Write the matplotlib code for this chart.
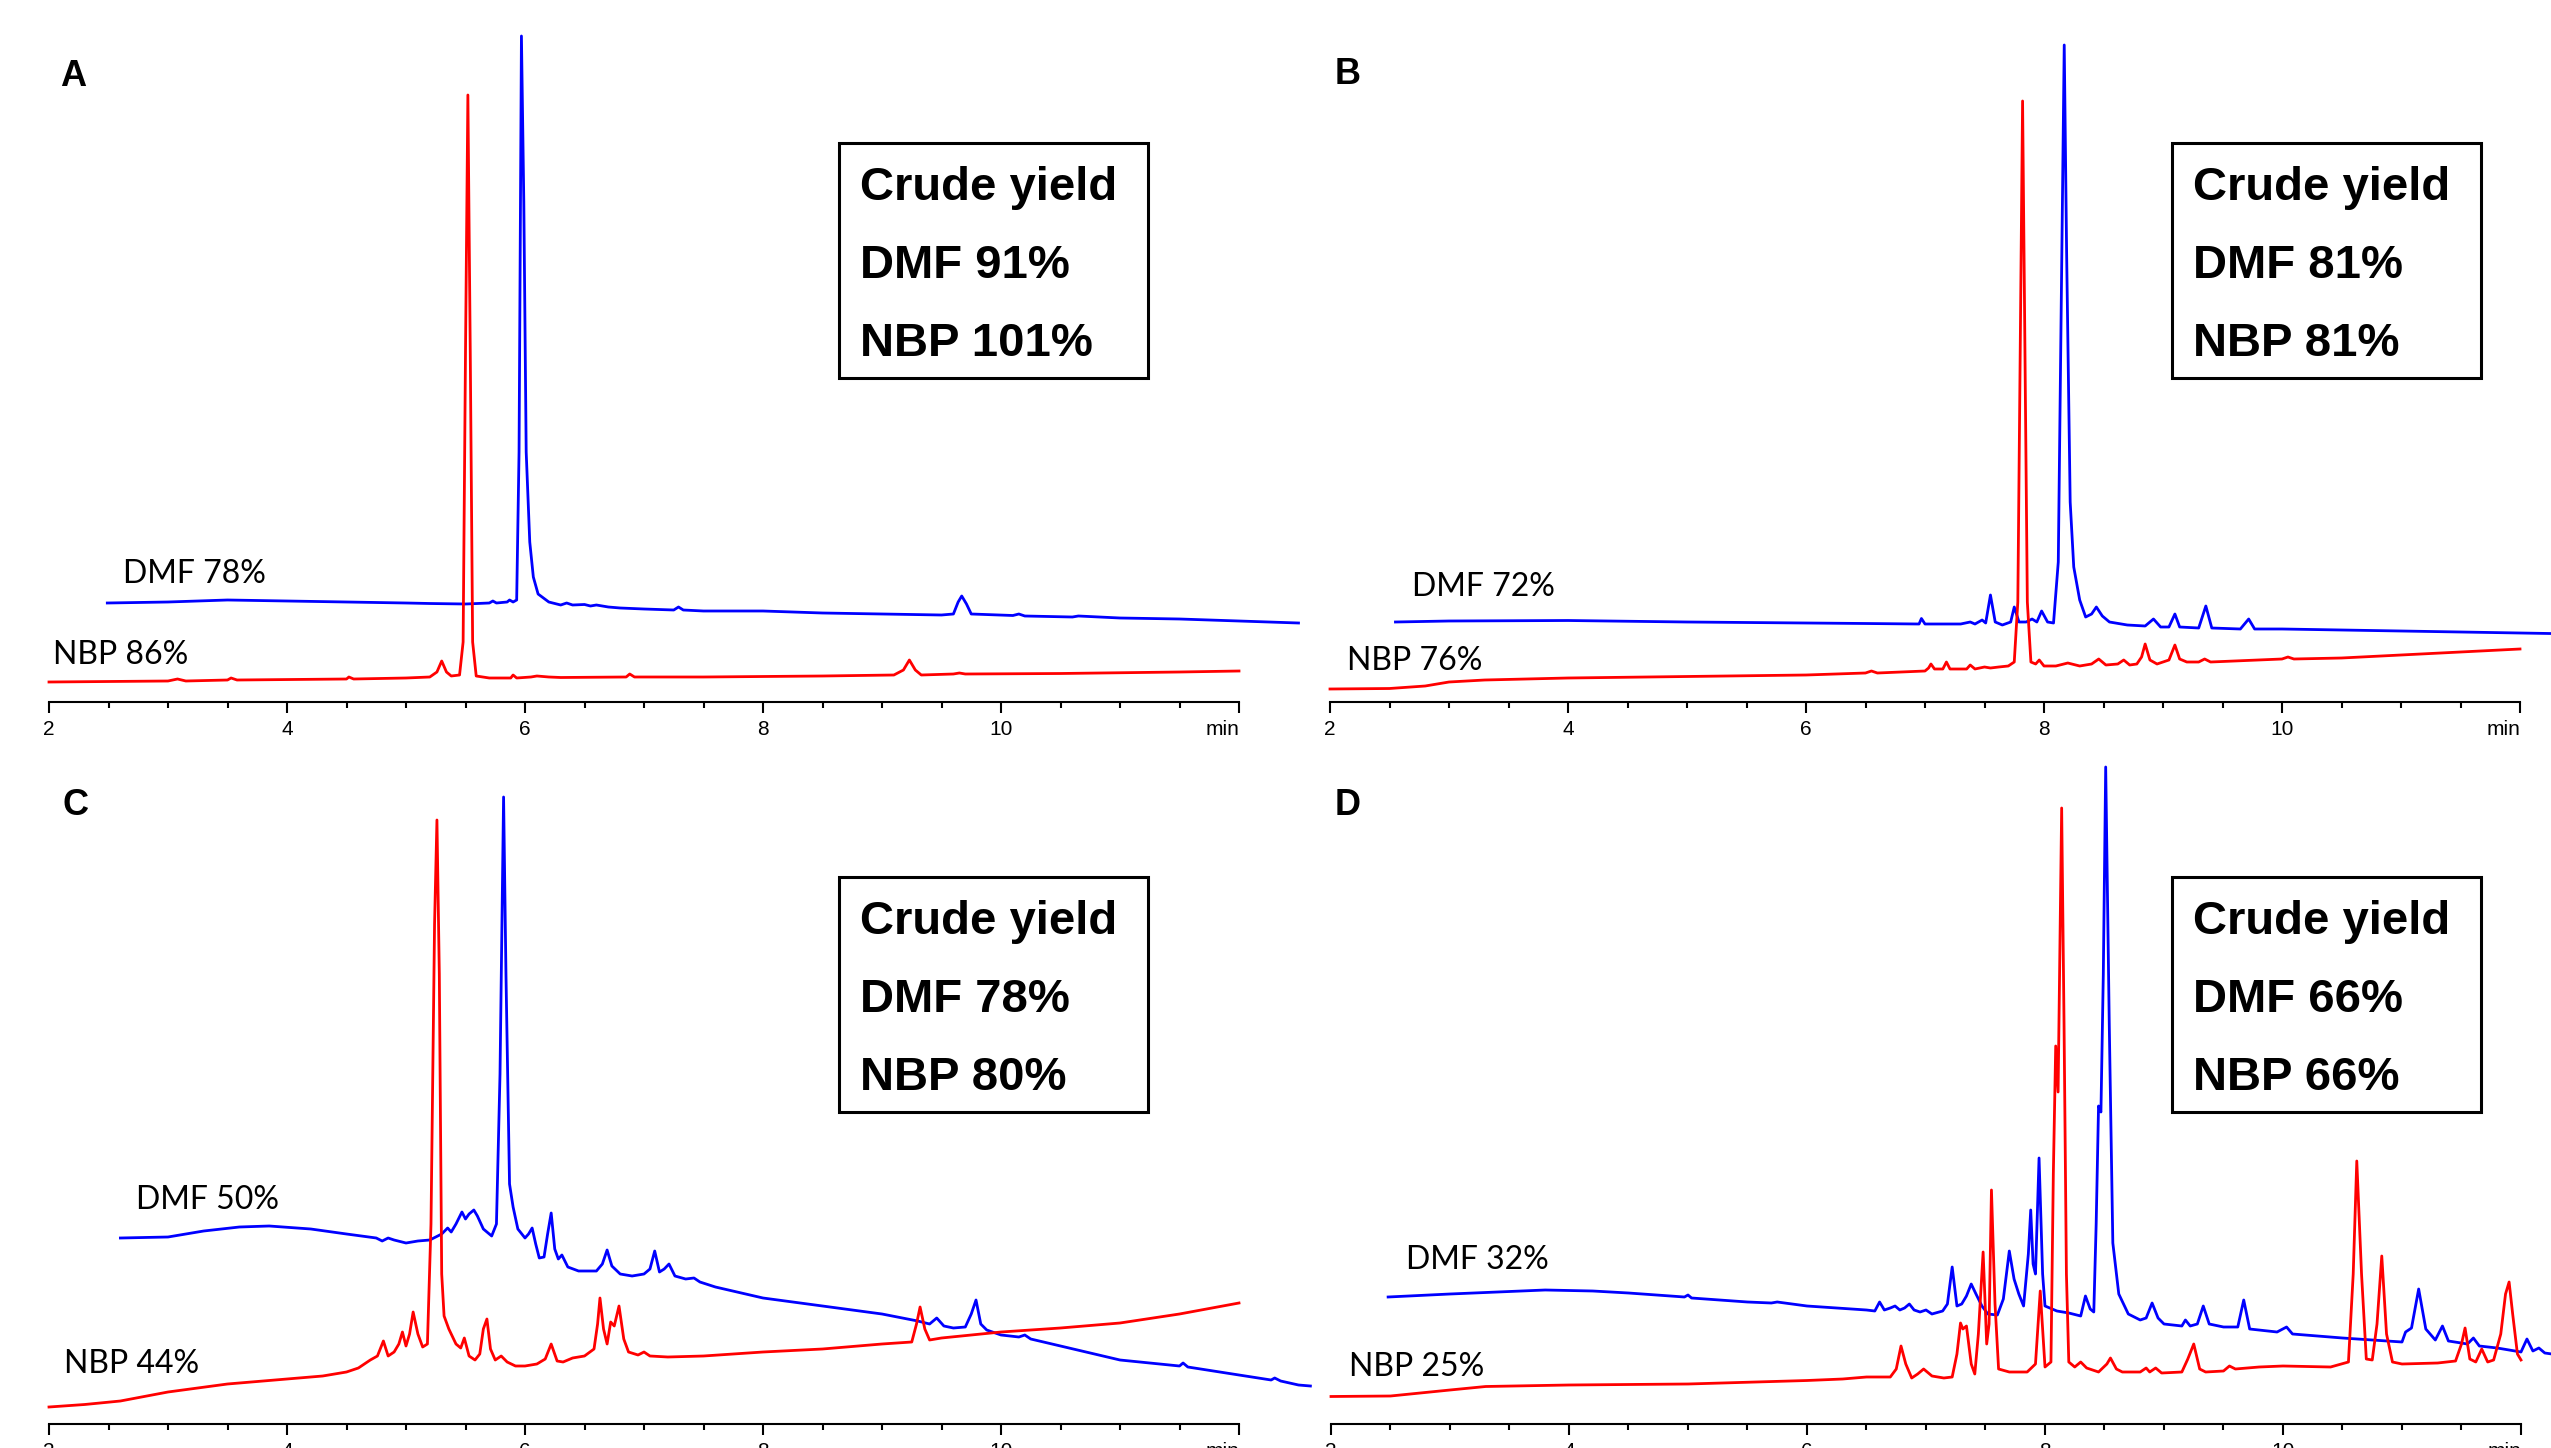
import numpy as np
import matplotlib
matplotlib.use("Agg")
import matplotlib.pyplot as plt
from matplotlib.patches import Rectangle

W, H = 2551, 1448

# (time, signal) vertices; signal in px above the axis
a_red = [(2.0, 20), (3.0, 21), (3.08, 23), (3.15, 21), (3.5, 22), (3.53, 24), (3.58, 22),
         (4.5, 23), (4.52, 25), (4.56, 23), (5.0, 24), (5.2, 25), (5.26, 30), (5.30, 41),
         (5.34, 30), (5.38, 26), (5.45, 27), (5.48, 60), (5.50, 350), (5.52, 607),
         (5.54, 350), (5.56, 60), (5.59, 26), (5.7, 24), (5.88, 24), (5.9, 27), (5.93, 24),
         (6.05, 25), (6.1, 26), (6.2, 25), (6.3, 24.5), (6.85, 25), (6.88, 28), (6.92, 25),
         (7.5, 25), (8.5, 26), (9.1, 27), (9.18, 32), (9.23, 42), (9.28, 32), (9.33, 27),
         (9.6, 28), (9.65, 29), (9.7, 28), (10.5, 28.5), (11.5, 30), (12.0, 31)]
a_blue = [(2.49, 99), (3.0, 100), (3.5, 102), (4.0, 101), (4.5, 100), (5.0, 99), (5.2, 98.5),
          (5.5, 98), (5.7, 99), (5.73, 101), (5.76, 99), (5.85, 100), (5.87, 102), (5.9, 100),
          (5.93, 102), (5.95, 250), (5.97, 666), (5.99, 500), (6.01, 250), (6.04, 160),
          (6.07, 125), (6.11, 108), (6.2, 100), (6.3, 97), (6.35, 99), (6.4, 97), (6.5, 97.5),
          (6.55, 96), (6.6, 97), (6.7, 95), (6.8, 94), (7.0, 93), (7.25, 92), (7.29, 95),
          (7.33, 92), (7.5, 91), (8.0, 91), (8.5, 89), (9.0, 88), (9.5, 87), (9.6, 88),
          (9.64, 100), (9.67, 106), (9.71, 98), (9.75, 88), (10.1, 86.5), (10.15, 88),
          (10.2, 86), (10.6, 85), (10.65, 86), (11.0, 84), (11.5, 83), (12.0, 81), (12.5, 79)]

b_red = [(2.0, 13), (2.5, 13.5), (2.8, 16), (3.0, 20), (3.3, 22), (4.0, 24), (5.0, 25.5),
         (6.0, 27), (6.5, 29), (6.55, 31), (6.6, 29), (7.0, 31), (7.03, 34), (7.05, 38),
         (7.08, 33), (7.15, 33), (7.18, 40), (7.21, 33), (7.35, 33), (7.38, 37), (7.42, 33),
         (7.5, 35), (7.55, 34), (7.62, 35), (7.7, 36), (7.75, 40), (7.78, 100), (7.80, 350),
         (7.82, 601), (7.84, 350), (7.86, 100), (7.89, 40), (7.93, 38), (7.96, 42), (8.0, 36),
         (8.1, 36), (8.2, 39), (8.3, 36), (8.4, 38), (8.46, 43), (8.52, 37), (8.62, 38),
         (8.67, 42), (8.72, 37), (8.78, 38), (8.82, 45), (8.85, 58), (8.89, 42), (8.95, 38),
         (9.05, 42), (9.10, 57), (9.14, 43), (9.2, 40), (9.3, 40), (9.35, 43), (9.4, 40),
         (10.0, 43), (10.05, 45), (10.1, 43), (10.5, 44), (11.0, 47), (11.5, 50), (12.0, 53)]
b_blue = [(2.55, 80), (3.0, 81), (4.0, 81.5), (5.0, 80), (6.0, 79), (6.5, 78.5), (6.95, 78),
          (6.97, 83.5), (7.0, 78), (7.3, 78), (7.38, 80), (7.42, 78), (7.48, 82), (7.51, 79),
          (7.55, 107), (7.59, 80), (7.65, 77), (7.72, 80), (7.75, 95), (7.79, 80), (7.85, 80),
          (7.9, 83), (7.94, 80), (7.98, 91), (8.03, 80), (8.08, 79), (8.12, 140), (8.15, 450),
          (8.17, 657), (8.19, 450), (8.22, 200), (8.25, 135), (8.3, 102), (8.35, 85),
          (8.4, 88), (8.44, 95), (8.49, 86), (8.55, 80), (8.7, 77), (8.85, 76), (8.92, 83),
          (8.98, 75), (9.05, 75), (9.1, 88), (9.14, 75), (9.3, 74), (9.36, 96), (9.41, 74),
          (9.65, 73), (9.72, 83), (9.77, 73), (10.0, 73), (11.0, 71), (12.0, 69), (12.5, 68)]

c_red = [(2.0, 17), (2.3, 19.5), (2.6, 23), (3.0, 32), (3.5, 40), (4.0, 45), (4.3, 48),
         (4.5, 52), (4.6, 56), (4.65, 60), (4.7, 64), (4.76, 68), (4.81, 83), (4.85, 68),
         (4.9, 72), (4.94, 80), (4.97, 92), (5.0, 78), (5.03, 90), (5.06, 112), (5.1, 90),
         (5.14, 77), (5.18, 80), (5.21, 200), (5.24, 500), (5.26, 604), (5.28, 450),
         (5.3, 150), (5.32, 108), (5.36, 95), (5.42, 80), (5.46, 76), (5.49, 86), (5.53, 68),
         (5.58, 64), (5.62, 70), (5.65, 95), (5.68, 105), (5.71, 75), (5.75, 64), (5.8, 68),
         (5.85, 62), (5.92, 58), (6.0, 58), (6.1, 60), (6.17, 65), (6.22, 80), (6.27, 63),
         (6.32, 62), (6.4, 66), (6.5, 68), (6.58, 75), (6.61, 100), (6.63, 126), (6.66, 95),
         (6.69, 80), (6.72, 102), (6.75, 98), (6.79, 118), (6.83, 85), (6.87, 72),
         (6.95, 69), (7.0, 72), (7.05, 68), (7.2, 67), (7.5, 68), (8.0, 72), (8.5, 75),
         (9.0, 80), (9.25, 82), (9.29, 100), (9.32, 117), (9.36, 95), (9.40, 84), (9.5, 86),
         (10.0, 92), (10.5, 96), (11.0, 101), (11.5, 110), (12.0, 121)]
c_blue = [(2.6, 186), (3.0, 187), (3.3, 193), (3.6, 197), (3.85, 198), (4.2, 195), (4.5, 190),
          (4.75, 186), (4.8, 183), (4.85, 186), (4.9, 184), (5.0, 181), (5.1, 183), (5.2, 184),
          (5.3, 190), (5.35, 196), (5.38, 192), (5.42, 200), (5.47, 212), (5.5, 205),
          (5.53, 210), (5.57, 214), (5.6, 208), (5.65, 195), (5.72, 188), (5.76, 200),
          (5.79, 350), (5.82, 627), (5.84, 450), (5.87, 240), (5.9, 217), (5.94, 195),
          (6.0, 186), (6.03, 190), (6.06, 196), (6.09, 180), (6.12, 166), (6.16, 167),
          (6.19, 190), (6.22, 211), (6.25, 175), (6.28, 165), (6.31, 169), (6.36, 157),
          (6.45, 153), (6.6, 153), (6.65, 160), (6.69, 174), (6.73, 158), (6.8, 150),
          (6.9, 148), (7.0, 150), (7.05, 155), (7.09, 173), (7.13, 152), (7.17, 155),
          (7.21, 160), (7.26, 148), (7.35, 145), (7.42, 146), (7.47, 142), (7.6, 137),
          (8.0, 126), (8.5, 118), (9.0, 110), (9.3, 103), (9.4, 100), (9.46, 106), (9.52, 98),
          (9.6, 96), (9.7, 97), (9.75, 110), (9.79, 124), (9.83, 100), (9.88, 94), (10.0, 89),
          (10.15, 87), (10.2, 89), (10.25, 85), (10.5, 78), (11.0, 64), (11.5, 58),
          (11.53, 61), (11.57, 57), (12.0, 49), (12.27, 44), (12.3, 46), (12.35, 43),
          (12.5, 39), (12.6, 38)]

d_red = [(2.0, 27.5), (2.5, 28), (3.0, 34), (3.3, 37.5), (4.0, 39), (5.0, 40), (6.0, 43.5),
         (6.3, 45), (6.5, 47), (6.7, 47), (6.75, 55), (6.79, 78), (6.83, 60), (6.88, 46),
         (6.93, 50), (6.98, 55), (7.05, 48), (7.15, 46), (7.22, 47), (7.26, 70), (7.29, 101),
         (7.31, 95), (7.34, 98), (7.38, 60), (7.41, 50), (7.44, 90), (7.48, 172), (7.51, 80),
         (7.53, 100), (7.55, 234), (7.58, 120), (7.61, 55), (7.7, 52), (7.85, 52),
         (7.92, 60), (7.96, 133), (8.0, 57), (8.05, 62), (8.07, 250), (8.09, 378),
         (8.11, 332), (8.14, 616), (8.16, 400), (8.18, 150), (8.2, 62), (8.25, 57),
         (8.3, 62), (8.35, 56), (8.45, 52), (8.52, 60), (8.55, 66), (8.6, 55), (8.65, 52),
         (8.8, 52), (8.85, 56), (8.88, 52), (8.93, 56), (8.98, 51), (9.15, 52), (9.2, 65),
         (9.25, 80), (9.3, 55), (9.35, 52), (9.5, 53), (9.55, 58), (9.6, 55), (9.8, 57),
         (10.0, 58), (10.4, 57), (10.55, 62), (10.59, 150), (10.62, 263), (10.66, 150),
         (10.7, 65), (10.75, 64), (10.79, 100), (10.83, 168), (10.87, 90), (10.92, 62),
         (11.0, 60), (11.3, 61), (11.45, 63), (11.5, 80), (11.53, 96), (11.57, 65),
         (11.62, 62), (11.67, 75), (11.72, 62), (11.77, 64), (11.83, 90), (11.87, 130),
         (11.9, 142), (11.93, 110), (11.97, 70), (12.0, 64)]
d_blue = [(2.48, 127), (3.0, 130), (3.5, 132.5), (3.8, 134), (4.2, 133), (4.5, 131),
          (4.97, 127), (5.0, 129), (5.03, 126), (5.5, 122), (5.7, 121), (5.75, 122),
          (6.0, 118), (6.5, 114), (6.57, 113), (6.61, 122), (6.65, 114), (6.7, 116),
          (6.74, 118), (6.78, 114), (6.82, 116), (6.86, 120), (6.9, 114), (6.95, 112),
          (7.0, 114), (7.05, 110), (7.14, 113), (7.18, 120), (7.22, 157), (7.26, 118),
          (7.3, 120), (7.34, 128), (7.38, 140), (7.42, 130), (7.47, 118), (7.52, 110),
          (7.6, 109), (7.65, 125), (7.7, 173), (7.74, 145), (7.78, 130), (7.82, 118),
          (7.86, 170), (7.88, 214), (7.9, 160), (7.92, 150), (7.95, 266), (7.98, 150),
          (8.0, 118), (8.1, 113), (8.2, 111), (8.3, 108), (8.34, 128), (8.38, 115),
          (8.41, 112), (8.43, 200), (8.45, 318), (8.47, 312), (8.49, 450), (8.51, 657),
          (8.54, 400), (8.57, 181), (8.62, 130), (8.7, 110), (8.8, 104), (8.85, 106),
          (8.9, 121), (8.95, 106), (9.0, 100), (9.15, 98), (9.18, 104), (9.22, 98),
          (9.28, 100), (9.33, 118), (9.38, 100), (9.5, 97), (9.62, 97), (9.67, 124),
          (9.72, 95), (9.95, 92), (10.03, 97), (10.08, 90), (10.5, 86), (11.0, 82),
          (11.03, 92), (11.08, 96), (11.14, 135), (11.2, 95), (11.28, 84), (11.34, 98),
          (11.39, 83), (11.55, 80), (11.6, 86), (11.65, 78), (11.8, 76), (12.0, 72),
          (12.05, 85), (12.1, 73), (12.15, 76), (12.2, 71), (12.26, 70)]

letters = ["A", "B", "C", "D"]
red_labels = ["NBP 86%", "NBP 76%", "NBP 44%", "NBP 25%"]
blue_labels = ["DMF 78%", "DMF 72%", "DMF 50%", "DMF 32%"]
yield_dmf = ["DMF 91%", "DMF 81%", "DMF 78%", "DMF 66%"]
yield_nbp = ["NBP 101%", "NBP 81%", "NBP 80%", "NBP 66%"]
reds = [a_red, b_red, c_red, d_red]
blues = [a_blue, b_blue, c_blue, d_blue]

# layout in pixels of the original figure
ax_left = [49, 1330, 49, 1331]
ax_base = [702, 702, 1424, 1424]
ax_w, ax_h = 1190, 683
letter_xy = [(60, 86), (1335, 84), (63, 815), (1335, 815)]
box_xy = [(839, 143), (2172, 143), (839, 877), (2172, 877)]
box_w, box_h = 309, 235
blue_lab_xy = [(2.62, 119), (2.69, 106), (2.73, 215), (2.63, 155)]
red_lab_xy = [(2.03, 38), (2.14, 32), (2.13, 51), (2.15, 48)]

RED, BLUE = "#ff0000", "#0000ff"
lab_font = ["Lato", "DejaVu Sans"]
bold_font = ["Liberation Sans", "DejaVu Sans"]

fig = plt.figure(figsize=(W / 100, H / 100), dpi=100)

def fx(px):
    return px / W

def fy(py):
    return 1 - py / H

for i in range(4):
    ax = fig.add_axes([fx(ax_left[i]), fy(ax_base[i]), ax_w / W, ax_h / H])
    ax.set_xlim(2, 12)
    ax.set_ylim(0, ax_h)
    for s in ["top", "right", "left"]:
        ax.spines[s].set_visible(False)
    ax.spines["bottom"].set_linewidth(1.5)
    ax.set_yticks([])
    ax.set_xticks([2, 4, 6, 8, 10, 12])
    ax.set_xticks(np.arange(2, 12.01, 0.5), minor=True)
    ax.set_xticklabels(["2", "4", "6", "8", "10", "min"])
    ax.tick_params(axis="x", which="major", length=8, width=1.5, pad=5,
                   labelsize=15, direction="out")
    ax.tick_params(axis="x", which="minor", length=4, width=1.5, direction="out")
    for lab in ax.get_xticklabels():
        lab.set_family(bold_font)
    ax.get_xticklabels()[-1].set_ha("right")
    ax.patch.set_alpha(0)

    rt, ry = np.array(reds[i]).T
    bt, by = np.array(blues[i]).T
    ax.plot(bt, by, color=BLUE, lw=2.0, clip_on=False, zorder=3)
    ax.plot(rt, ry, color=RED, lw=2.0, clip_on=False, zorder=4)

    ax.text(blue_lab_xy[i][0], blue_lab_xy[i][1], blue_labels[i], fontsize=23,
            family=lab_font, va="baseline", ha="left")
    ax.text(red_lab_xy[i][0], red_lab_xy[i][1], red_labels[i], fontsize=23,
            family=lab_font, va="baseline", ha="left")

    # panel letter
    fig.text(fx(letter_xy[i][0]), fy(letter_xy[i][1]), letters[i], fontsize=26,
             fontweight="bold", family=bold_font, va="baseline", ha="left")

    # crude yield box
    bx, by0 = box_xy[i]
    fig.add_artist(Rectangle((fx(bx), fy(by0 + box_h)), box_w / W, box_h / H,
                             transform=fig.transFigure, fill=False, lw=2.2,
                             edgecolor="black"))
    for j, txt in enumerate(["Crude yield", yield_dmf[i], yield_nbp[i]]):
        fig.text(fx(bx + 21), fy(by0 + 57 + 78 * j), txt, fontsize=34,
                 fontweight="bold", family=bold_font, va="baseline", ha="left")

fig.savefig("out.png", dpi=100)
